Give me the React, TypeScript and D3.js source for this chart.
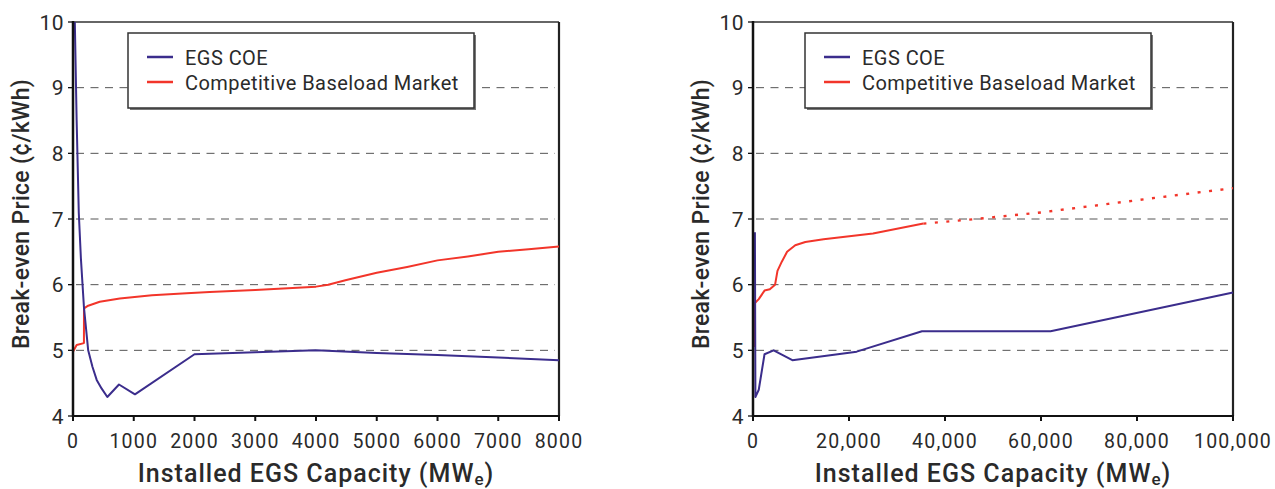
import React from "react";
import * as d3 from "d3";

// ---- data ----
const yTicks = [4, 5, 6, 7, 8, 9, 10];
const gridValues = [5, 6, 7, 8, 9];

const leftXTicks = [0, 1000, 2000, 3000, 4000, 5000, 6000, 7000, 8000];
const rightXTicks = [0, 20000, 40000, 60000, 80000, 100000];

const egsLeftCapacity = [30, 60, 95, 130, 180, 250, 320, 390, 470, 565, 757, 1020, 2000, 3000, 4000, 5000, 6000, 7000, 8000];
const egsLeftPrice = [10, 8.5, 7.1, 6.4, 5.66, 5.0, 4.75, 4.55, 4.42, 4.29, 4.48, 4.33, 4.94, 4.97, 5.0, 4.96, 4.93, 4.89, 4.85];

const marketLeftCapacity = [0, 60, 180, 181, 250, 440, 770, 1300, 1870, 2250, 3000, 4000, 4200, 4500, 5000, 5500, 6000, 6500, 7000, 7500, 8000];
const marketLeftPrice = [4.98, 5.08, 5.11, 5.64, 5.68, 5.74, 5.79, 5.84, 5.87, 5.89, 5.92, 5.97, 6.0, 6.07, 6.18, 6.27, 6.37, 6.43, 6.5, 6.54, 6.58];

const egsRightCapacity = [400, 500, 1200, 2400, 4300, 8200, 21600, 35200, 62000, 100000];
const egsRightPrice = [6.8, 4.29, 4.4, 4.94, 5.0, 4.85, 4.98, 5.29, 5.29, 5.88];

const marketRightCapacity = [300, 400, 1200, 2400, 3500, 4600, 5100, 6000, 7100, 8800, 10900, 14700, 25000, 35500];
const marketRightPrice = [5.05, 5.72, 5.78, 5.91, 5.93, 6.0, 6.21, 6.35, 6.5, 6.6, 6.65, 6.69, 6.78, 6.93];

const marketRightProjCapacity = [35500, 45000, 60000, 74000, 89000, 100000];
const marketRightProjPrice = [6.93, 6.99, 7.1, 7.23, 7.37, 7.47];

const legendLabels = ["EGS COE", "Competitive Baseload Market"];

const PURPLE = "#3b2d8c";
const RED = "#f2352a";
const TEXT = "#2a2a2a";
const FONT = "Roboto, 'DejaVu Sans', sans-serif";

type Series = { xs: number[]; ys: number[]; color: string; dash?: string };

type PanelProps = {
  left: number;
  right: number;
  xMax: number;
  xTicks: number[];
  fmt: (v: number) => string;
  series: Series[];
  legendX: number;
  legendW: number;
};

const TOP = 22;
const BOTTOM = 416;

function Panel({ left, right, xMax, xTicks, fmt, series, legendX, legendW }: PanelProps) {
  const x = d3.scaleLinear().domain([0, xMax]).range([left, right]);
  const y = d3.scaleLinear().domain([4, 10]).range([BOTTOM, TOP]);
  const line = d3
    .line<[number, number]>()
    .x((d) => x(d[0]))
    .y((d) => y(d[1]));
  const legendY = 33;
  const legendH = 75;
  return (
    <g>
      {/* grid */}
      {gridValues.map((v) => (
        <line
          key={"g" + v}
          x1={left + 3}
          x2={right - 4}
          y1={y(v)}
          y2={y(v)}
          stroke="#555"
          strokeWidth={1}
          strokeDasharray="8 6.5"
        />
      ))}
      {/* frame top & right */}
      <line x1={left} x2={right} y1={TOP} y2={TOP} stroke="#333" strokeWidth={1.3} />
      <line x1={right} x2={right} y1={TOP} y2={BOTTOM} stroke="#222" strokeWidth={2.2} />
      {/* series */}
      {series.map((s, i) => (
        <path
          key={"s" + i}
          d={line(s.xs.map((v, j) => [v, s.ys[j]] as [number, number])) || ""}
          fill="none"
          stroke={s.color}
          strokeWidth={s.dash ? 2.4 : 2}
          strokeDasharray={s.dash}
          strokeLinejoin="round"
        />
      ))}
      {/* axes */}
      <line x1={left} x2={left} y1={TOP - 1} y2={BOTTOM + 1} stroke="#111" strokeWidth={2.5} />
      <line x1={left} x2={right + 1} y1={BOTTOM} y2={BOTTOM} stroke="#111" strokeWidth={2} />
      {yTicks.map((v) => (
        <g key={"y" + v}>
          <line x1={left - 5} x2={left} y1={y(v)} y2={y(v)} stroke="#111" strokeWidth={1.3} />
          <text
            x={left - 9}
            y={y(v)}
            dy="0.36em"
            textAnchor="end"
            fontSize={21}
            fill={TEXT}
            fontFamily={FONT}
            letterSpacing={0.5}
          >
            {v}
          </text>
        </g>
      ))}
      {xTicks.map((v) => (
        <g key={"x" + v}>
          <line x1={x(v)} x2={x(v)} y1={BOTTOM} y2={BOTTOM + 5} stroke="#111" strokeWidth={2} />
          <text
            x={x(v)}
            y={448}
            textAnchor="middle"
            fontSize={19.5}
            fill={TEXT}
            fontFamily={FONT}
            letterSpacing={1.2}
          >
            {fmt(v)}
          </text>
        </g>
      ))}
      {/* axis titles */}
      <text
        transform={`translate(${left - 52},${(TOP + BOTTOM) / 2 - 5}) rotate(-90)`}
        textAnchor="middle"
        dy="0.35em"
        fontSize={23}
        fontWeight={500}
        fill={TEXT}
        fontFamily={FONT}
        letterSpacing={0.3}
      >
        Break-even Price (¢/kWh)
      </text>
      <text
        x={(left + right) / 2}
        y={482}
        textAnchor="middle"
        fontSize={25}
        fontWeight={500}
        fill={TEXT}
        fontFamily={FONT}
        letterSpacing={1}
      >
        Installed EGS Capacity (MW
        <tspan fontSize={17} dy={3}>e</tspan>
        <tspan dy={-3}>)</tspan>
      </text>
      {/* legend */}
      <rect x={legendX + 2} y={legendY + 2} width={legendW} height={legendH} fill="#777" />
      <rect
        x={legendX}
        y={legendY}
        width={legendW}
        height={legendH}
        fill="#fff"
        stroke="#333"
        strokeWidth={1.5}
      />
      {legendLabels.map((lab, i) => (
        <g key={"l" + i}>
          <line
            x1={legendX + 19}
            x2={legendX + 45}
            y1={legendY + 24 + i * 25}
            y2={legendY + 24 + i * 25}
            stroke={i === 0 ? PURPLE : RED}
            strokeWidth={2.5}
          />
          <text
            x={legendX + 57}
            y={legendY + 32 + i * 25}
            fontSize={20}
            fill={TEXT}
            fontFamily={FONT}
            letterSpacing={0.45}
          >
            {lab}
          </text>
        </g>
      ))}
    </g>
  );
}

export default function App() {
  const commaFmt = d3.format(",");
  return (
    <svg
      width={1275}
      height={489}
      style={{ position: "absolute", left: 0, top: 0, background: "#fff" }}
    >
      <rect width={1275} height={489} fill="#fff" />
      <Panel
        left={73}
        right={559}
        xMax={8000}
        xTicks={leftXTicks}
        fmt={(v) => String(v)}
        series={[
          { xs: marketLeftCapacity, ys: marketLeftPrice, color: RED },
          { xs: egsLeftCapacity, ys: egsLeftPrice, color: PURPLE },
        ]}
        legendX={128}
        legendW={346}
      />
      <Panel
        left={753}
        right={1233}
        xMax={100000}
        xTicks={rightXTicks}
        fmt={(v) => commaFmt(v)}
        series={[
          { xs: marketRightCapacity, ys: marketRightPrice, color: RED },
          { xs: marketRightProjCapacity, ys: marketRightProjPrice, color: RED, dash: "3 8.5" },
          { xs: egsRightCapacity, ys: egsRightPrice, color: PURPLE },
        ]}
        legendX={805}
        legendW={346}
      />
    </svg>
  );
}
